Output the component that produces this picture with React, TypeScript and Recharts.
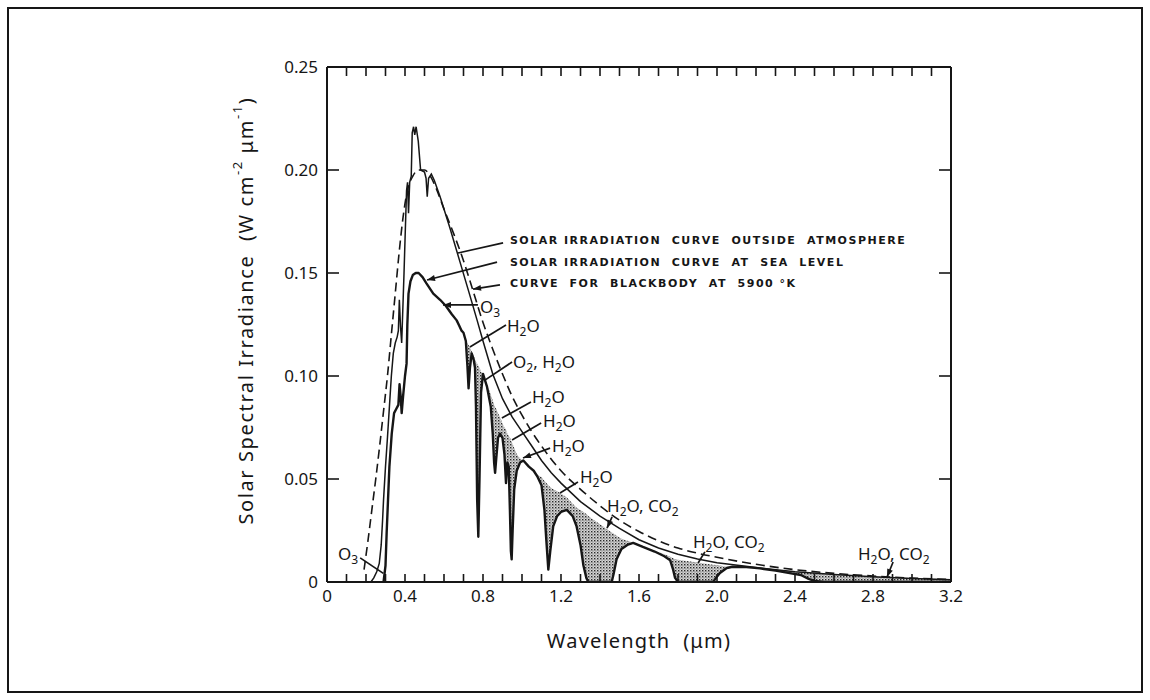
import React from 'react';
import { ComposedChart, Line, Area, XAxis, YAxis, ReferenceDot, ReferenceLine } from 'recharts';

// ---------- axis ticks ----------
const xMinorTicks = [0, 0.1, 0.2, 0.3, 0.4, 0.5, 0.6, 0.7, 0.8, 0.9, 1.0, 1.1, 1.2, 1.3, 1.4, 1.5, 1.6, 1.7, 1.8, 1.9, 2.0, 2.1, 2.2, 2.3, 2.4, 2.5, 2.6, 2.7, 2.8, 2.9, 3.0, 3.1, 3.2];
const xTickLabels = ['0', '0.4', '0.8', '1.2', '1.6', '2.0', '2.4', '2.8', '3.2'];
const yTicks = [0, 0.05, 0.1, 0.15, 0.2, 0.25];
const yTickLabels = ['0', '0.05', '0.10', '0.15', '0.20', '0.25'];

// ---------- curves [wavelength µm, W cm^-2 µm^-1] ----------
const blackbody5900: [number, number][] = [
  [0.19, 0.006], [0.21, 0.02], [0.23, 0.035], [0.25, 0.05], [0.27, 0.066], [0.29, 0.083], [0.31, 0.1],
  [0.33, 0.12], [0.35, 0.14], [0.37, 0.16], [0.39, 0.177], [0.41, 0.189], [0.44, 0.197], [0.47, 0.2],
  [0.5, 0.2], [0.53, 0.197], [0.56, 0.191], [0.6, 0.181], [0.65, 0.169], [0.7, 0.156], [0.75, 0.141],
  [0.8, 0.126], [0.85, 0.113], [0.9, 0.101], [0.95, 0.09], [1.0, 0.081], [1.05, 0.073], [1.1, 0.066],
  [1.2, 0.054], [1.3, 0.045], [1.4, 0.037], [1.5, 0.03], [1.6, 0.0245], [1.7, 0.02], [1.8, 0.0165],
  [1.9, 0.014], [2.0, 0.012], [2.2, 0.0086], [2.4, 0.006], [2.6, 0.0042], [2.8, 0.0029], [3.0, 0.0019], [3.2, 0.0012],
];

const outsideAtmosphere: [number, number][] = [
  [0.225, 0.0], [0.24, 0.002], [0.255, 0.005], [0.268, 0.009], [0.278, 0.018], [0.285, 0.03], [0.29, 0.04], [0.3, 0.056], [0.31, 0.07],
  [0.32, 0.085], [0.33, 0.1], [0.34, 0.111], [0.35, 0.116], [0.36, 0.119], [0.366, 0.122], [0.371, 0.137],
  [0.377, 0.124], [0.383, 0.116], [0.388, 0.13], [0.395, 0.15], [0.402, 0.172], [0.408, 0.19], [0.413, 0.194],
  [0.418, 0.179], [0.424, 0.194], [0.432, 0.197], [0.437, 0.218], [0.444, 0.221], [0.45, 0.217], [0.457, 0.221],
  [0.468, 0.214], [0.48, 0.2], [0.5, 0.199], [0.508, 0.196], [0.514, 0.187], [0.521, 0.196], [0.535, 0.198],
  [0.55, 0.195], [0.58, 0.187], [0.63, 0.172], [0.68, 0.156], [0.73, 0.14], [0.77, 0.127], [0.8, 0.117],
  [0.85, 0.101], [0.9, 0.089], [0.95, 0.08], [1.0, 0.073], [1.05, 0.066], [1.1, 0.059], [1.15, 0.053],
  [1.2, 0.048], [1.3, 0.039], [1.4, 0.032], [1.5, 0.026], [1.6, 0.0205], [1.7, 0.0165], [1.8, 0.0135],
  [1.9, 0.0112], [2.0, 0.0094], [2.2, 0.007], [2.4, 0.005], [2.6, 0.0036], [2.8, 0.0025], [3.0, 0.0017], [3.2, 0.0011],
];

// sea-level curve below 0.69 µm (no shaded absorption)
const seaLevelShort: [number, number][] = [
  [0.29, 0.0], [0.3, 0.008], [0.306, 0.024], [0.313, 0.04], [0.32, 0.056], [0.332, 0.072], [0.344, 0.082],
  [0.355, 0.084], [0.366, 0.086], [0.372, 0.096], [0.378, 0.09], [0.383, 0.082], [0.39, 0.09], [0.4, 0.1],
  [0.408, 0.106], [0.412, 0.125], [0.418, 0.14], [0.428, 0.146], [0.44, 0.149], [0.455, 0.15], [0.47, 0.15],
  [0.49, 0.148], [0.51, 0.145], [0.545, 0.14], [0.58, 0.137], [0.61, 0.134], [0.64, 0.13], [0.665, 0.127], [0.68, 0.124],
];

// [wavelength, sea-level irradiance, top of shaded absorption band]
const absorptionBands: [number, number, number][] = [
  [0.69, 0.122, 0.122], [0.7, 0.121, 0.121], [0.712, 0.117, 0.118], [0.72, 0.105, 0.116], [0.726, 0.094, 0.115],
  [0.733, 0.104, 0.114], [0.742, 0.111, 0.112], [0.752, 0.108, 0.11], [0.759, 0.104, 0.108], [0.764, 0.085, 0.107],
  [0.77, 0.04, 0.106], [0.776, 0.022, 0.105], [0.782, 0.05, 0.104], [0.79, 0.092, 0.102], [0.8, 0.101, 0.101],
  [0.82, 0.095, 0.096], [0.84, 0.085, 0.091], [0.85, 0.072, 0.088], [0.857, 0.058, 0.086], [0.862, 0.053, 0.085],
  [0.868, 0.06, 0.084], [0.877, 0.07, 0.082], [0.887, 0.072, 0.08], [0.9, 0.07, 0.077], [0.91, 0.062, 0.075],
  [0.918, 0.048, 0.074], [0.925, 0.058, 0.072], [0.932, 0.056, 0.071], [0.938, 0.035, 0.07], [0.943, 0.015, 0.069],
  [0.947, 0.011, 0.068], [0.952, 0.025, 0.067], [0.96, 0.045, 0.065], [0.973, 0.054, 0.062], [0.99, 0.058, 0.06],
  [1.007, 0.059, 0.059], [1.035, 0.056, 0.056], [1.06, 0.054, 0.054], [1.08, 0.051, 0.052], [1.1, 0.047, 0.051],
  [1.115, 0.035, 0.049], [1.125, 0.02, 0.048], [1.135, 0.006, 0.047], [1.145, 0.015, 0.046], [1.16, 0.027, 0.045],
  [1.18, 0.032, 0.044], [1.2, 0.034, 0.043], [1.23, 0.035, 0.041], [1.26, 0.032, 0.038], [1.28, 0.027, 0.036],
  [1.3, 0.018, 0.035], [1.315, 0.008, 0.034], [1.33, 0.002, 0.033], [1.34, 0.0, 0.032], [1.4, 0.0, 0.028],
  [1.46, 0.0, 0.024], [1.47, 0.004, 0.0235], [1.485, 0.011, 0.0225], [1.51, 0.016, 0.021], [1.54, 0.018, 0.02],
  [1.57, 0.019, 0.019], [1.62, 0.017, 0.017], [1.68, 0.0148, 0.0152], [1.73, 0.0125, 0.0135], [1.76, 0.0105, 0.0123],
  [1.775, 0.006, 0.0115], [1.785, 0.002, 0.011], [1.8, 0.0, 0.0108], [1.9, 0.0, 0.0095], [1.98, 0.0, 0.0084],
  [1.995, 0.002, 0.0082], [2.015, 0.0044, 0.008], [2.05, 0.0068, 0.0074], [2.08, 0.0074, 0.0074], [2.15, 0.0072, 0.0072],
  [2.22, 0.0066, 0.0067], [2.3, 0.0055, 0.0059], [2.38, 0.0042, 0.0052], [2.43, 0.0034, 0.0048], [2.47, 0.0015, 0.0045],
  [2.5, 0.0005, 0.0042], [2.55, 0.0, 0.0038], [2.7, 0.0, 0.003], [2.9, 0.0, 0.0022], [3.2, 0.0, 0.0013],
];

// ---------- annotations ----------
type Note = { text: string; x: number; y: number; from: [number, number]; to: [number, number]; arrow: boolean };

const curveNotes: Note[] = [
  { text: 'SOLAR IRRADIATION  CURVE  OUTSIDE  ATMOSPHERE', x: 0.938, y: 0.166, from: [0.903, 0.1646], to: [0.672, 0.1597], arrow: false },
  { text: 'SOLAR IRRADIATION  CURVE  AT  SEA  LEVEL', x: 0.938, y: 0.1553, from: [0.872, 0.1553], to: [0.513, 0.1466], arrow: true },
  { text: 'CURVE  FOR  BLACKBODY  AT  5900 °K', x: 0.938, y: 0.1447, from: [0.887, 0.1442], to: [0.749, 0.1422], arrow: true },
];

const gasNotes: Note[] = [
  { text: 'O_3', x: 0.056, y: 0.0107, from: [0.17, 0.0117], to: [0.289, 0.0042], arrow: false },
  { text: 'O_3', x: 0.785, y: 0.1306, from: [0.774, 0.1345], to: [0.595, 0.1345], arrow: true },
  { text: 'H_2O', x: 0.923, y: 0.1214, from: [0.918, 0.1248], to: [0.733, 0.1141], arrow: false },
  { text: 'O_2, H_2O', x: 0.954, y: 0.1039, from: [0.949, 0.1068], to: [0.81, 0.098], arrow: false },
  { text: 'H_2O', x: 1.051, y: 0.0869, from: [1.046, 0.0874], to: [0.897, 0.0796], arrow: false },
  { text: 'H_2O', x: 1.108, y: 0.0752, from: [1.098, 0.0772], to: [0.949, 0.0689], arrow: false },
  { text: 'H_2O', x: 1.154, y: 0.0631, from: [1.144, 0.065], to: [1.005, 0.0602], arrow: true },
  { text: 'H_2O', x: 1.297, y: 0.048, from: [1.287, 0.0485], to: [1.195, 0.0432], arrow: false },
  { text: 'H_2O, CO_2', x: 1.436, y: 0.034, from: [1.462, 0.0316], to: [1.436, 0.0262], arrow: true },
  { text: 'H_2O, CO_2', x: 1.877, y: 0.0165, from: [1.938, 0.0146], to: [1.903, 0.0092], arrow: false },
  { text: 'H_2O, CO_2', x: 2.723, y: 0.0107, from: [2.903, 0.0097], to: [2.872, 0.0024], arrow: true },
];

// ---------- derived tables ----------
const bbRows = blackbody5900.map(([x, y]) => ({ x, y }));
const outRows = outsideAtmosphere.map(([x, y]) => ({ x, y }));
const seaRows = [
  ...seaLevelShort.map(([x, y]) => ({ x, y })),
  ...absorptionBands.map(([x, s]) => ({ x, y: s })),
];
const bandRows = absorptionBands.map(([x, s, t]) => ({ x, band: [s, t] }));

const INK = '#161616';
const FONT = '"Noto Sans", "DejaVu Sans", sans-serif';

const BottomTick = (p: any) => {
  const { x, y, payload } = p;
  const i = Math.round(payload.value * 10);
  return (
    <g>
      <line x1={x} y1={y} x2={x} y2={y - 8} stroke={INK} strokeWidth={1.6} />
      {i % 4 === 0 && (
        <text x={x} y={y + 20} textAnchor="middle" fontSize={17} fontFamily={FONT} fill={INK}>
          {xTickLabels[i / 4]}
        </text>
      )}
    </g>
  );
};

const TopTick = (p: any) => {
  const { x, y } = p;
  return <line x1={x} y1={y} x2={x} y2={y + 9} stroke={INK} strokeWidth={1.6} />;
};

const LeftTick = (p: any) => {
  const { x, y, payload } = p;
  const i = Math.round(payload.value * 20);
  return (
    <g>
      <line x1={x} y1={y} x2={x + 12} y2={y} stroke={INK} strokeWidth={1.6} />
      <text x={x - 9} y={y} dy="0.35em" textAnchor="end" fontSize={17} fontFamily={FONT} fill={INK}>
        {yTickLabels[i]}
      </text>
    </g>
  );
};

const RightTick = (p: any) => {
  const { x, y } = p;
  return <line x1={x} y1={y} x2={x - 12} y2={y} stroke={INK} strokeWidth={1.6} />;
};

const ChemText = ({ x, y, text }: { x: number; y: number; text: string }) => {
  const parts: { t: string; sub: boolean }[] = [];
  for (let i = 0; i < text.length; i++) {
    const c = text[i];
    if (c === '_') {
      parts.push({ t: text[i + 1], sub: true });
      i++;
    } else if (parts.length && !parts[parts.length - 1].sub) {
      parts[parts.length - 1].t += c;
    } else {
      parts.push({ t: c, sub: false });
    }
  }
  let prevSub = false;
  return (
    <text x={x} y={y} fontSize={17} fontFamily={FONT} fill={INK} style={{ whiteSpace: 'pre' }}>
      {parts.map((p, i) => {
        const dy = p.sub ? 4 : prevSub ? -4 : 0;
        prevSub = p.sub;
        return (
          <tspan key={i} dy={dy} fontSize={p.sub ? 12 : 17}>
            {p.t}
          </tspan>
        );
      })}
    </text>
  );
};

const leaderShape = (arrow: boolean) => (p: any) => {
  const { x1, y1, x2, y2 } = p;
  if (x1 == null) return <g />;
  const ang = Math.atan2(y2 - y1, x2 - x1);
  const L = 8;
  const W = 3;
  const bx = x2 - L * Math.cos(ang);
  const by = y2 - L * Math.sin(ang);
  const px = -Math.sin(ang) * W;
  const py = Math.cos(ang) * W;
  return (
    <g>
      <line x1={x1} y1={y1} x2={x2} y2={y2} stroke={INK} strokeWidth={1.7} />
      {arrow && <polygon points={`${x2},${y2} ${bx + px},${by + py} ${bx - px},${by - py}`} fill={INK} />}
    </g>
  );
};

const YTitle = (p: any) => {
  const vb = p.viewBox || {};
  const cx = vb.x - 22;
  const cy = vb.y + vb.height / 2 - 14;
  return (
    <text
      x={cx}
      y={cy}
      transform={`rotate(-90, ${cx}, ${cy})`}
      textAnchor="middle"
      dominantBaseline="central"
      fontSize={20}
      fontFamily={FONT}
      fill={INK}
      letterSpacing={1.6}
      style={{ whiteSpace: 'pre' }}
    >
      <tspan>Solar Spectral Irradiance  (W cm</tspan>
      <tspan dy={-8} fontSize={13}>-2</tspan>
      <tspan dy={8}> μm</tspan>
      <tspan dy={-8} fontSize={13}>-1</tspan>
      <tspan dy={8}>)</tspan>
    </text>
  );
};

const XTitle = (p: any) => {
  const vb = p.viewBox || {};
  const cx = vb.x + vb.width / 2;
  const cy = vb.y + 58;
  return (
    <text x={cx} y={cy} textAnchor="middle" dominantBaseline="central" fontSize={20} fontFamily={FONT} fill={INK} letterSpacing={1.2} style={{ whiteSpace: 'pre' }}>
      Wavelength  (μm)
    </text>
  );
};

export default function App() {
  return (
    <div style={{ position: 'absolute', left: 0, top: 0, width: 1150, height: 700, background: '#fff' }}>
      <div
        style={{
          position: 'absolute',
          left: 7,
          top: 7,
          width: 1136,
          height: 686,
          border: `2px solid ${INK}`,
          boxSizing: 'border-box',
        }}
      />
      <div style={{ position: 'absolute', left: 0, top: 0 }}>
        <ComposedChart width={1150} height={700} margin={{ top: 57, right: 179, bottom: 88, left: 267 }}>
          <defs>
            <pattern id="stipple" width="3" height="3" patternUnits="userSpaceOnUse">
              <rect width="3" height="3" fill="#d6d6d6" />
              <rect x="0" y="0" width="1.4" height="1.4" fill="#2a2a2a" />
              <rect x="1.5" y="1.5" width="1" height="1" fill="#555555" />
            </pattern>
          </defs>
          <XAxis
            xAxisId="b"
            dataKey="x"
            type="number"
            domain={[0, 3.2]}
            ticks={xMinorTicks}
            interval={0}
            tickSize={0}
            tickMargin={0}
            tick={<BottomTick />}
            tickLine={false}
            axisLine={{ stroke: INK, strokeWidth: 2 }}
            height={30}
            allowDataOverflow
            label={<XTitle />}
          />
          <XAxis
            xAxisId="t"
            orientation="top"
            dataKey="x"
            type="number"
            domain={[0, 3.2]}
            ticks={xMinorTicks}
            interval={0}
            tickSize={0}
            tickMargin={0}
            tick={<TopTick />}
            tickLine={false}
            axisLine={{ stroke: INK, strokeWidth: 2 }}
            height={10}
            allowDataOverflow
          />
          <YAxis
            yAxisId="l"
            type="number"
            domain={[0, 0.25]}
            ticks={yTicks}
            interval={0}
            tickSize={0}
            tickMargin={0}
            tick={<LeftTick />}
            tickLine={false}
            axisLine={{ stroke: INK, strokeWidth: 2 }}
            width={60}
            allowDataOverflow
            label={<YTitle />}
          />
          <YAxis
            yAxisId="r"
            orientation="right"
            type="number"
            domain={[0, 0.25]}
            ticks={yTicks}
            interval={0}
            tickSize={0}
            tickMargin={0}
            tick={<RightTick />}
            tickLine={false}
            axisLine={{ stroke: INK, strokeWidth: 2 }}
            width={20}
            allowDataOverflow
          />

          <Area
            xAxisId="b"
            yAxisId="l"
            data={bandRows}
            dataKey="band"
            type="linear"
            stroke="none"
            fill="url(#stipple)"
            fillOpacity={1}
            isAnimationActive={false}
            activeDot={false}
          />
          <Line
            xAxisId="t"
            yAxisId="r"
            data={bbRows}
            dataKey="y"
            type="monotone"
            stroke={INK}
            strokeWidth={1.6}
            strokeDasharray="9 5"
            dot={false}
            activeDot={false}
            isAnimationActive={false}
          />
          <Line
            xAxisId="b"
            yAxisId="l"
            data={outRows}
            dataKey="y"
            type="linear"
            stroke={INK}
            strokeWidth={1.5}
            dot={false}
            activeDot={false}
            isAnimationActive={false}
          />
          <Line
            xAxisId="b"
            yAxisId="l"
            data={seaRows}
            dataKey="y"
            type="linear"
            stroke={INK}
            strokeWidth={2.4}
            strokeLinejoin="round"
            dot={false}
            activeDot={false}
            isAnimationActive={false}
          />

          {[...curveNotes, ...gasNotes].map((n, i) => (
            <ReferenceLine
              key={`l${i}`}
              xAxisId="b"
              yAxisId="l"
              segment={[{ x: n.from[0], y: n.from[1] }, { x: n.to[0], y: n.to[1] }]}
              shape={leaderShape(n.arrow)}
              ifOverflow="visible"
            />
          ))}
          {curveNotes.map((n, i) => (
            <ReferenceDot
              key={`c${i}`}
              xAxisId="b"
              yAxisId="l"
              x={n.x}
              y={n.y}
              r={0}
              ifOverflow="visible"
              shape={(p: any) => (
                <text
                  x={p.cx}
                  y={p.cy}
                  dominantBaseline="central"
                  fontSize={11}
                  fontWeight={700}
                  letterSpacing={1.5}
                  fontFamily='"DejaVu Sans", sans-serif'
                  fill={INK}
                  style={{ whiteSpace: 'pre' }}
                >
                  {n.text}
                </text>
              )}
            />
          ))}
          {gasNotes.map((n, i) => (
            <ReferenceDot
              key={`g${i}`}
              xAxisId="b"
              yAxisId="l"
              x={n.x}
              y={n.y}
              r={0}
              ifOverflow="visible"
              shape={(p: any) => <ChemText x={p.cx} y={p.cy} text={n.text} />}
            />
          ))}
        </ComposedChart>
      </div>
    </div>
  );
}
